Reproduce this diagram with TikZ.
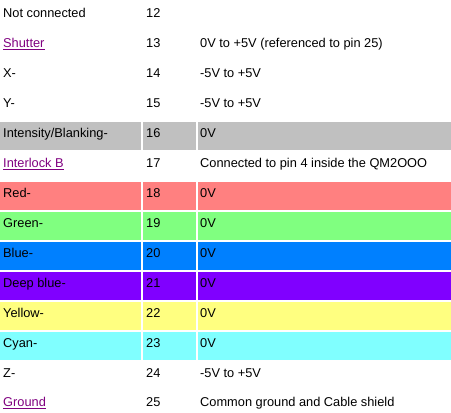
\documentclass[tikz,border=0pt]{standalone}
\usepackage{fontspec}
\setmainfont{Liberation Sans}
\definecolor{cgray}{HTML}{C0C0C0}
\definecolor{cred}{HTML}{FF8080}
\definecolor{cgreen}{HTML}{80FF80}
\definecolor{cblue}{HTML}{0080FF}
\definecolor{cdeep}{HTML}{8000FF}
\definecolor{cyellow}{HTML}{FFFF80}
\definecolor{ccyan}{HTML}{80FFFF}
\definecolor{linkc}{HTML}{800080}
\tikzset{
  txt/.style={anchor=base west,inner sep=0pt,font=\fontsize{12.8}{14}\selectfont},
  linktxt/.style={txt,text=linkc},
  uline/.style={draw=linkc,line width=1pt},
}
\begin{document}
\begin{tikzpicture}[x=1pt,y=-1pt]
\useasboundingbox (0,0) rectangle (451,413);
\fill[white] (0,0) rectangle (451,413);
% colored rows
\foreach \t/\c in {122/cgray,182/cred,212/cgreen,242/cblue,272/cdeep,302/cyellow,332/ccyan}{
  \fill[\c] (0,\t) rectangle (141,\t+28);
  \fill[\c] (143,\t) rectangle (196,\t+28);
  \fill[\c] (198,\t) rectangle (451,\t+28);
}
% row 12
\node[txt] (a12) at (3,17.5) {Not connected};
\node[txt] (b12) at (146,17.5) {12};
% row 13
\node[linktxt] (a13) at (3,47.5) {Shutter};
\draw[uline] ([yshift=-1.5pt]a13.base west) -- ([yshift=-1.5pt]a13.base east);
\node[txt] (b13) at (146,47.5) {13};
\node[txt] (c13) at (200,47.5) {0V to +5V (referenced to pin 25)};
% row 14
\node[txt] (a14) at (3,77.5) {X-};
\node[txt] (b14) at (146,77.5) {14};
\node[txt] (c14) at (200,77.5) {-5V to +5V};
% row 15
\node[txt] (a15) at (3,107.5) {Y-};
\node[txt] (b15) at (146,107.5) {15};
\node[txt] (c15) at (200,107.5) {-5V to +5V};
% row 16
\node[txt] (a16) at (3,137.5) {Intensity/Blanking-};
\node[txt] (b16) at (146,137.5) {16};
\node[txt] (c16) at (200,137.5) {0V};
% row 17
\node[linktxt] (a17) at (3,167.5) {Interlock B};
\draw[uline] ([yshift=-1.5pt]a17.base west) -- ([yshift=-1.5pt]a17.base east);
\node[txt] (b17) at (146,167.5) {17};
\node[txt] (c17) at (200,167.5) {Connected to pin 4 inside the QM2OOO};
% row 18
\node[txt] (a18) at (3,197.5) {Red-};
\node[txt] (b18) at (146,197.5) {18};
\node[txt] (c18) at (200,197.5) {0V};
% row 19
\node[txt] (a19) at (3,227.5) {Green-};
\node[txt] (b19) at (146,227.5) {19};
\node[txt] (c19) at (200,227.5) {0V};
% row 20
\node[txt] (a20) at (3,257.5) {Blue-};
\node[txt] (b20) at (146,257.5) {20};
\node[txt] (c20) at (200,257.5) {0V};
% row 21
\node[txt] (a21) at (3,287.5) {Deep blue-};
\node[txt] (b21) at (146,287.5) {21};
\node[txt] (c21) at (200,287.5) {0V};
% row 22
\node[txt] (a22) at (3,317.5) {Yellow-};
\node[txt] (b22) at (146,317.5) {22};
\node[txt] (c22) at (200,317.5) {0V};
% row 23
\node[txt] (a23) at (3,347.5) {Cyan-};
\node[txt] (b23) at (146,347.5) {23};
\node[txt] (c23) at (200,347.5) {0V};
% row 24
\node[txt] (a24) at (3,377.5) {Z-};
\node[txt] (b24) at (146,377.5) {24};
\node[txt] (c24) at (200,377.5) {-5V to +5V};
% row 25
\node[linktxt] (a25) at (3,406.5) {Ground};
\draw[uline] ([yshift=-1.5pt]a25.base west) -- ([yshift=-1.5pt]a25.base east);
\node[txt] (b25) at (146,406.5) {25};
\node[txt] (c25) at (200,406.5) {Common ground and Cable shield};
\end{tikzpicture}
\end{document}
